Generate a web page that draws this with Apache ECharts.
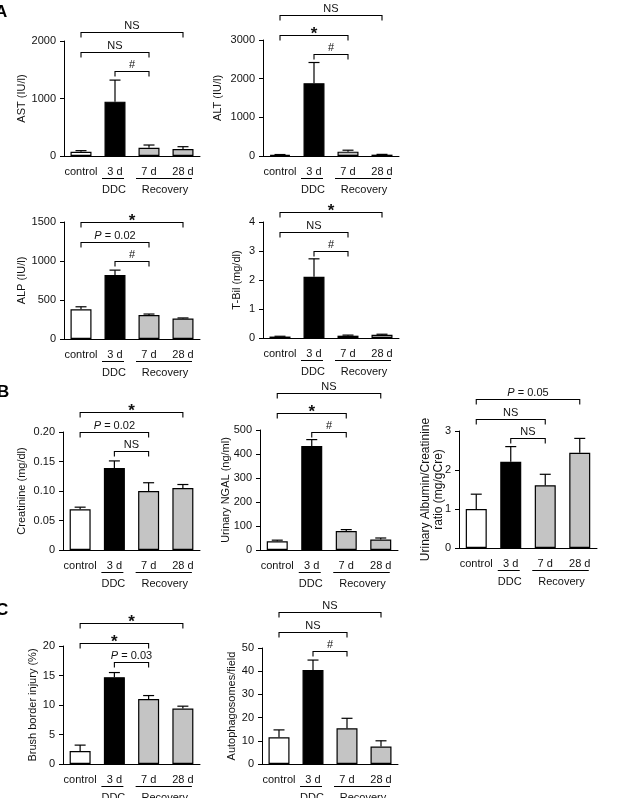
<!DOCTYPE html>
<html><head><meta charset="utf-8">
<script src="https://cdn.jsdelivr.net/npm/echarts@6/dist/echarts.min.js"></script>
<style>html,body{margin:0;padding:0;background:#fff}#c{width:617px;height:798px}</style>
</head><body><div id="c"></div>
<script>
// ---- data ----
const categories = ['control', '3 d', '7 d', '28 d'];
const groupNames = ['DDC', 'Recovery'];
const groupSpans = [[1, 1], [2, 3]];
const bracketPairs = [[0, 3], [0, 2], [1, 2]];

const astMean = [75, 945, 144, 122];
const astErrTop = [93, 1320, 191, 162];
const astSig = ['NS', 'NS', '#'];

const altMean = [30, 1883, 112, 35];
const altErrTop = [38, 2418, 150, 42];
const altSig = ['NS', '*', '#'];

const alpMean = [380, 819, 307, 263];
const alpErrTop = [413, 883, 320, 270];
const alpSig = ['*', 'P = 0.02', '#'];

const tbilMean = [0.05, 2.11, 0.08, 0.11];
const tbilErrTop = [0.06, 2.73, 0.1, 0.13];
const tbilSig = ['*', 'NS', '#'];

const creMean = [0.069, 0.139, 0.100, 0.105];
const creErrTop = [0.0726, 0.151, 0.114, 0.111];
const creSig = ['*', 'P = 0.02', 'NS'];

const ngalMean = [36, 433, 79, 44];
const ngalErrTop = [41, 460, 85, 50];
const ngalSig = ['NS', '*', '#'];

const albMean = [1.0, 2.21, 1.61, 2.44];
const albErrTop = [1.38, 2.6, 1.89, 2.81];
const albSig = ['P = 0.05', 'NS', 'NS'];

const brushMean = [2.2, 14.7, 11.0, 9.4];
const brushErrTop = [3.2, 15.5, 11.6, 9.8];
const brushSig = ['*', '*', 'P = 0.03'];

const autoMean = [11.5, 40.5, 15.4, 7.5];
const autoErrTop = [14.7, 44.8, 19.7, 10.0];
const autoSig = ['NS', 'NS', '#'];

// ---- layout / style ----
const FONT = 'Liberation Sans, Arial, sans-serif';
const TXT = '#111';
const barColors = ['#ffffff', '#000000', '#c4c4c4', '#c4c4c4'];
const plainFmt = v => String(v);

const panels = [
  { name: 'AST (IU/l)', mean: astMean, err: astErrTop, sig: astSig, max: 2000, interval: 1000, grid: { left: 64, top: 41, width: 136, height: 115 }, nameGap: 36, bTop: -9 },
  { name: 'ALT (IU/l)', mean: altMean, err: altErrTop, sig: altSig, max: 3000, interval: 1000, grid: { left: 263, top: 40, width: 136, height: 116 }, nameGap: 39, bTop: -25 },
  { name: 'ALP (IU/l)', mean: alpMean, err: alpErrTop, sig: alpSig, max: 1500, interval: 500, grid: { left: 64, top: 222, width: 136, height: 117 }, nameGap: 36, bTop: 0 },
  { name: 'T-Bil (mg/dl)', mean: tbilMean, err: tbilErrTop, sig: tbilSig, max: 4, interval: 1, grid: { left: 263, top: 222, width: 136, height: 116 }, nameGap: 20, bTop: -10 },
  { name: 'Creatinine (mg/dl)', mean: creMean, err: creErrTop, sig: creSig, max: 0.2, interval: 0.05, grid: { left: 63, top: 432, width: 137, height: 118 }, nameGap: 35, bTop: -20, fmt: v => v === 0 ? '0' : v.toFixed(2) },
  { name: 'Urinary NGAL (ng/ml)', mean: ngalMean, err: ngalErrTop, sig: ngalSig, max: 500, interval: 100, grid: { left: 260, top: 430, width: 138, height: 120 }, nameGap: 28, bTop: -37 },
  { name: 'Urinary Albumin/Creatinine\nratio (mg/gCre)', mean: albMean, err: albErrTop, sig: albSig, max: 3, interval: 1, grid: { left: 459, top: 431, width: 138, height: 117 }, nameGap: 14, bTop: -32, nameSize: 12, lineHeight: 13 },
  { name: 'Brush border injury (%)', mean: brushMean, err: brushErrTop, sig: brushSig, max: 20, interval: 5, grid: { left: 63, top: 646, width: 137, height: 118 }, nameGap: 24, bTop: -23 },
  { name: 'Autophagosomes/field', mean: autoMean, err: autoErrTop, sig: autoSig, max: 50, interval: 10, grid: { left: 262, top: 648, width: 136, height: 116 }, nameGap: 24, bTop: -36 }
];

const grid = [], xAxis = [], yAxis = [], series = [];

panels.forEach((p, i) => {
  grid.push(Object.assign({ containLabel: false }, p.grid));
  xAxis.push({
    gridIndex: i, type: 'category', data: categories,
    axisLine: { lineStyle: { color: '#000', width: 1 } },
    axisTick: { show: false },
    axisLabel: { color: TXT, fontSize: 11, fontFamily: FONT, margin: 10, interval: 0 }
  });
  yAxis.push({
    gridIndex: i, type: 'value', min: 0, max: p.max, interval: p.interval,
    splitLine: { show: false },
    axisLine: { show: true, lineStyle: { color: '#000', width: 1 } },
    axisTick: { show: true, length: 4, lineStyle: { color: '#000' } },
    axisLabel: { color: TXT, fontSize: 11, fontFamily: FONT, margin: 8, formatter: p.fmt || plainFmt },
    name: p.name, nameLocation: 'middle', nameGap: p.nameGap, nameMoveOverlap: false,
    nameTextStyle: { color: TXT, fontSize: p.nameSize || 11, fontFamily: FONT, lineHeight: p.lineHeight || 13 }
  });
  series.push({
    type: 'bar', xAxisIndex: i, yAxisIndex: i, barWidth: 21, silent: true,
    itemStyle: { borderColor: '#000', borderWidth: 1.2 },
    data: p.mean.map((v, j) => ({ value: v, itemStyle: { color: barColors[j] } })),
    z: 2
  });
  series.push({
    type: 'custom', xAxisIndex: i, yAxisIndex: i, silent: true, z: 3,
    data: p.mean.map((v, j) => [j, v, p.err[j]]),
    renderItem: (params, api) => {
      const x = api.value(0);
      const a = api.coord([x, api.value(1)]);
      const b = api.coord([x, api.value(2)]);
      return {
        type: 'group', children: [
          { type: 'line', shape: { x1: a[0], y1: a[1], x2: b[0], y2: b[1] }, style: { stroke: '#000', lineWidth: 1.2 } },
          { type: 'line', shape: { x1: b[0] - 5.5, y1: b[1], x2: b[0] + 5.5, y2: b[1] }, style: { stroke: '#000', lineWidth: 1.2 } }
        ]
      };
    }
  });
  // significance brackets
  series.push({
    type: 'custom', xAxisIndex: i, yAxisIndex: i, silent: true, z: 4, clip: false,
    data: bracketPairs.map((b, k) => [b[0], b[1], k]),
    renderItem: (params, api) => {
      const k = api.value(2);
      const a = api.coord([api.value(0), p.max]);
      const b = api.coord([api.value(1), p.max]);
      const y = Math.round(a[1] + p.bTop + k * 19.5) + 0.5;
      const lab = p.sig[k];
      const isStar = lab === '*';
      const isP = lab.indexOf('P') === 0;
      const txt = isP ? '{i|P}' + lab.slice(1) : lab;
      return {
        type: 'group', children: [
          { type: 'polyline', shape: { points: [[a[0], y + 5], [a[0], y], [b[0], y], [b[0], y + 5]] }, style: { stroke: '#000', lineWidth: 1.1, fill: null } },
          {
            type: 'text', style: {
              text: txt, x: (a[0] + b[0]) / 2, y: isStar ? y + 7 : y - 1,
              align: 'center', verticalAlign: 'bottom',
              font: isStar ? 'bold 17px ' + FONT : '11px ' + FONT, fill: TXT,
              rich: { i: { fontStyle: 'italic', fontSize: 11, fontFamily: FONT, fill: TXT } }
            }
          }
        ]
      };
    }
  });
  // group labels under categories
  series.push({
    type: 'custom', xAxisIndex: i, yAxisIndex: i, silent: true, z: 4, clip: false,
    data: groupSpans.map((s, g) => [s[0], 0, s[1], g]),
    renderItem: (params, api) => {
      const a = api.coord([api.value(0), 0]);
      const b = api.coord([api.value(2), 0]);
      const y0 = a[1];
      const ly = Math.round(y0 + 22) + 0.5;
      return {
        type: 'group', children: [
          { type: 'line', shape: { x1: a[0] - 13, y1: ly, x2: b[0] + 9, y2: ly }, style: { stroke: '#000', lineWidth: 1 } },
          { type: 'text', style: { text: groupNames[api.value(3)], x: (a[0] + b[0]) / 2 - 1, y: y0 + 34, align: 'center', verticalAlign: 'middle', font: '11px ' + FONT, fill: TXT } }
        ]
      };
    }
  });
});

const chart = echarts.init(document.getElementById('c'), null, { renderer: 'canvas' });
chart.setOption({
  backgroundColor: '#fff',
  animation: false,
  grid, xAxis, yAxis, series,
  graphic: [
    { type: 'text', left: -5, top: 4, style: { text: 'A', font: 'bold 17px ' + FONT, fill: '#000' } },
    { type: 'text', left: -3, top: 384, style: { text: 'B', font: 'bold 17px ' + FONT, fill: '#000' } },
    { type: 'text', left: -4, top: 602, style: { text: 'C', font: 'bold 17px ' + FONT, fill: '#000' } }
  ]
});
</script>
</body></html>
